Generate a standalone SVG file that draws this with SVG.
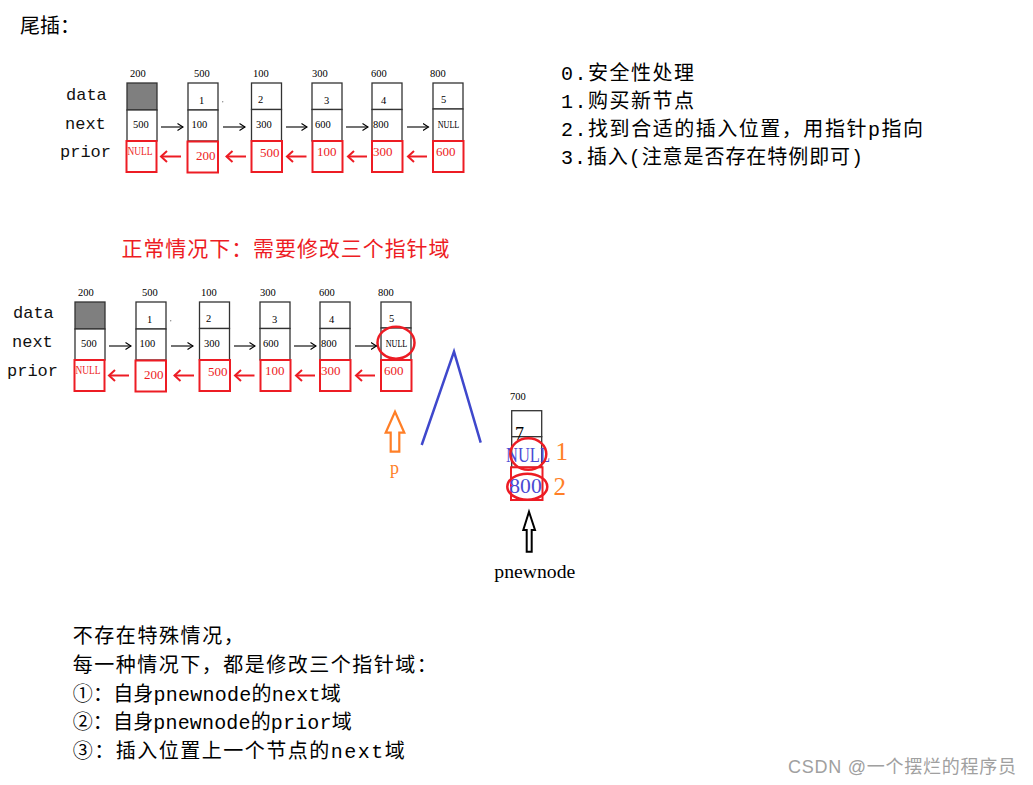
<svg xmlns="http://www.w3.org/2000/svg" width="1033" height="785" viewBox="0 0 1033 785">
<style>
.bg{fill:#fff}
.cjk{font-family:"Liberation Mono","Noto Sans CJK SC",monospace;font-size:20px;fill:#000}
.lab{font-family:"Liberation Mono",monospace;font-size:17px;fill:#111}
.addr{font-family:"Liberation Serif",serif;font-size:10.5px;fill:#000}
.val{font-family:"Liberation Serif",serif;font-size:10.5px;fill:#000}
.pv{font-family:"Liberation Serif",serif;font-size:13px;fill:#ed1c24}
.cell{fill:#fff;stroke:#333;stroke-width:1.3}
.gray{fill:#7f7f7f;stroke:#333;stroke-width:1.3}
.prior{fill:none;stroke:#ed1c24;stroke-width:2}
.nx{stroke:#000;stroke-width:1.1;fill:none;marker-end:url(#mb)}
.pr{stroke:#ed1c24;stroke-width:2;fill:none;marker-end:url(#mr)}
.ring{fill:none;stroke:#ed1c24;stroke-width:2.5}
</style>
<defs>
<marker id="mb" markerUnits="userSpaceOnUse" markerWidth="8" markerHeight="9" refX="6" refY="4" orient="auto"><path d="M0.5,0.5 L6,4 L0.5,7.5" fill="none" stroke="#000" stroke-width="1.1"/></marker>
<marker id="mr" markerUnits="userSpaceOnUse" markerWidth="10" markerHeight="14" refX="7.5" refY="6.5" orient="auto"><path d="M1.5,1 L7.5,6.5 L1.5,12" fill="none" stroke="#ed1c24" stroke-width="2"/></marker>
</defs>
<rect class="bg" x="0" y="0" width="1033" height="785"/>

<text class="cjk" x="20" y="33" font-size="20">尾插：</text>

<g id="steps">
<text class="cjk" x="561" y="80" textLength="133" lengthAdjust="spacing">0.安全性处理</text>
<text class="cjk" x="561" y="108" textLength="133" lengthAdjust="spacing">1.购买新节点</text>
<text class="cjk" x="561" y="136" textLength="362" lengthAdjust="spacing">2.找到合适的插入位置，用指针p指向</text>
<text class="cjk" x="561" y="164" textLength="302" lengthAdjust="spacing">3.插入(注意是否存在特例即可)</text>
</g>

<g id="row1-labels">
<text class="lab" x="66" y="100">data</text>
<text class="lab" x="65" y="129">next</text>
<text class="lab" x="60" y="157">prior</text>
</g>

<g id="row1">
<g id="r1-n200">
<text class="addr" x="130" y="76.5">200</text>
<rect class="gray" x="127" y="83" width="30" height="27"/>
<rect class="cell" x="127" y="110" width="30" height="31"/>
<text class="val" x="133" y="128">500</text>
<rect class="prior" x="126.5" y="141" width="30" height="31"/>
<text class="pv" x="127.5" y="155" font-size="12" textLength="25" lengthAdjust="spacingAndGlyphs">NULL</text>
</g>
<g id="r1-n500">
<text class="addr" x="194" y="76.5">500</text>
<rect class="cell" x="188" y="83" width="30" height="27"/>
<text class="val" x="199" y="104">1</text>
<rect class="cell" x="188" y="110" width="30" height="31"/>
<text class="val" x="191.5" y="128">100</text>
<rect class="prior" x="187.5" y="141.5" width="30.5" height="31"/>
<text class="pv" x="196" y="160">200</text>
<circle cx="222.7" cy="101.7" r="0.7" fill="#888"/>
</g>
<g id="r1-n100">
<text class="addr" x="253" y="76.5">100</text>
<rect class="cell" x="251.5" y="83" width="30" height="26.5"/>
<text class="val" x="258" y="103">2</text>
<rect class="cell" x="251.5" y="109.5" width="30" height="31.5"/>
<text class="val" x="256" y="128">300</text>
<rect class="prior" x="251.5" y="141" width="30.5" height="31"/>
<text class="pv" x="260" y="156.5">500</text>
</g>
<g id="r1-n300">
<text class="addr" x="312" y="76.5">300</text>
<rect class="cell" x="312" y="83" width="30" height="26.5"/>
<text class="val" x="324" y="104">3</text>
<rect class="cell" x="312" y="109.5" width="30" height="31.5"/>
<text class="val" x="315" y="128">600</text>
<rect class="prior" x="312.5" y="141" width="30" height="31"/>
<text class="pv" x="317" y="156">100</text>
</g>
<g id="r1-n600">
<text class="addr" x="371" y="76.5">600</text>
<rect class="cell" x="372" y="83" width="30" height="26.5"/>
<text class="val" x="381" y="104">4</text>
<rect class="cell" x="372" y="109.5" width="30" height="31.5"/>
<text class="val" x="373" y="128">800</text>
<rect class="prior" x="372" y="141" width="30.5" height="31"/>
<text class="pv" x="373" y="156">300</text>
</g>
<g id="r1-n800">
<text class="addr" x="430" y="76.5">800</text>
<rect class="cell" x="433" y="83" width="30" height="26"/>
<text class="val" x="441" y="102.7">5</text>
<rect class="cell" x="433" y="109" width="30" height="32"/>
<text class="val" x="437.7" y="128" font-size="11" textLength="21.6" lengthAdjust="spacingAndGlyphs">NULL</text>
<rect class="prior" x="433" y="141" width="30.5" height="31"/>
<text class="pv" x="436" y="156">600</text>
</g>
</g>

<text id="title-normal" x="121.5" y="256" font-family="Noto Sans CJK SC, sans-serif" font-size="21" fill="#ed1c24" textLength="328" lengthAdjust="spacing">正常情况下：需要修改三个指针域</text>

<g id="row2-labels">
<text class="lab" x="13" y="318">data</text>
<text class="lab" x="12" y="347">next</text>
<text class="lab" x="7" y="376">prior</text>
</g>

<g id="row2" transform="translate(-52,219)">
<g id="r2-n200">
<text class="addr" x="130" y="76.5">200</text>
<rect class="gray" x="127" y="83" width="30" height="27"/>
<rect class="cell" x="127" y="110" width="30" height="31"/>
<text class="val" x="133" y="128">500</text>
<rect class="prior" x="126.5" y="141" width="30" height="31"/>
<text class="pv" x="127.5" y="155" font-size="12" textLength="25" lengthAdjust="spacingAndGlyphs">NULL</text>
</g>
<g id="r2-n500">
<text class="addr" x="194" y="76.5">500</text>
<rect class="cell" x="188" y="83" width="30" height="27"/>
<text class="val" x="199" y="104">1</text>
<rect class="cell" x="188" y="110" width="30" height="31"/>
<text class="val" x="191.5" y="128">100</text>
<rect class="prior" x="187.5" y="141.5" width="30.5" height="31"/>
<text class="pv" x="196" y="160">200</text>
<circle cx="222.7" cy="101.7" r="0.7" fill="#888"/>
</g>
<g id="r2-n100">
<text class="addr" x="253" y="76.5">100</text>
<rect class="cell" x="251.5" y="83" width="30" height="26.5"/>
<text class="val" x="258" y="103">2</text>
<rect class="cell" x="251.5" y="109.5" width="30" height="31.5"/>
<text class="val" x="256" y="128">300</text>
<rect class="prior" x="251.5" y="141" width="30.5" height="31"/>
<text class="pv" x="260" y="156.5">500</text>
</g>
<g id="r2-n300">
<text class="addr" x="312" y="76.5">300</text>
<rect class="cell" x="312" y="83" width="30" height="26.5"/>
<text class="val" x="324" y="104">3</text>
<rect class="cell" x="312" y="109.5" width="30" height="31.5"/>
<text class="val" x="315" y="128">600</text>
<rect class="prior" x="312.5" y="141" width="30" height="31"/>
<text class="pv" x="317" y="156">100</text>
</g>
<g id="r2-n600">
<text class="addr" x="371" y="76.5">600</text>
<rect class="cell" x="372" y="83" width="30" height="26.5"/>
<text class="val" x="381" y="104">4</text>
<rect class="cell" x="372" y="109.5" width="30" height="31.5"/>
<text class="val" x="373" y="128">800</text>
<rect class="prior" x="372" y="141" width="30.5" height="31"/>
<text class="pv" x="373" y="156">300</text>
</g>
<g id="r2-n800">
<text class="addr" x="430" y="76.5">800</text>
<rect class="cell" x="433" y="83" width="30" height="26"/>
<text class="val" x="441" y="102.7">5</text>
<rect class="cell" x="433" y="109" width="30" height="32"/>
<text class="val" x="437.7" y="128" font-size="11" textLength="21.6" lengthAdjust="spacingAndGlyphs">NULL</text>
<rect class="prior" x="433" y="141" width="30.5" height="31"/>
<text class="pv" x="436" y="156">600</text>
<ellipse class="ring" cx="448" cy="123.7" rx="18.5" ry="16"/>
</g>
</g>

<g id="connectors">
<g id="row1-links">
<line class="nx" x1="161" y1="127" x2="183" y2="127"/>
<line class="nx" x1="223" y1="127" x2="245" y2="127"/>
<line class="nx" x1="286" y1="127" x2="307" y2="127"/>
<line class="nx" x1="346" y1="127" x2="368" y2="127"/>
<line class="nx" x1="407" y1="127" x2="428.5" y2="127"/>
<line class="pr" x1="181" y1="156.5" x2="161" y2="156.5"/>
<line class="pr" x1="246" y1="156.5" x2="226.5" y2="156.5"/>
<line class="pr" x1="306.5" y1="156.5" x2="287" y2="156.5"/>
<line class="pr" x1="367" y1="156.5" x2="348" y2="156.5"/>
<line class="pr" x1="427" y1="156.5" x2="408" y2="156.5"/>
</g>
<g id="row2-links" transform="translate(-52,219)">
<line class="nx" x1="161" y1="127" x2="183" y2="127"/>
<line class="nx" x1="223" y1="127" x2="245" y2="127"/>
<line class="nx" x1="286" y1="127" x2="307" y2="127"/>
<line class="nx" x1="346" y1="127" x2="368" y2="127"/>
<line class="nx" x1="407" y1="127" x2="428.5" y2="127"/>
<line class="pr" x1="181" y1="156.5" x2="161" y2="156.5"/>
<line class="pr" x1="246" y1="156.5" x2="226.5" y2="156.5"/>
<line class="pr" x1="306.5" y1="156.5" x2="287" y2="156.5"/>
<line class="pr" x1="367" y1="156.5" x2="348" y2="156.5"/>
<line class="pr" x1="427" y1="156.5" x2="408" y2="156.5"/>
</g>
</g>

<polyline id="insert-mark" points="421.7,445 454,351.7 480.7,442.7" fill="none" stroke="#3f48cc" stroke-width="2.5"/>

<g id="p-pointer">
<polygon points="395,411.7 404.3,432.7 399.3,432.7 399.3,451.7 390.7,451.7 390.7,432.7 385.7,432.7" fill="#fff" stroke="#ff7f27" stroke-width="2.2"/>
<text x="390" y="474" font-family="Liberation Serif, serif" font-size="18" fill="#ff7f27">p</text>
</g>

<g id="new-node-700">
<text class="addr" x="510" y="399.5">700</text>
<rect class="cell" x="511.7" y="410.7" width="30" height="26"/>
<rect class="cell" x="511.7" y="436.7" width="30" height="30.6"/>
<text x="515" y="440" font-family="Liberation Serif, serif" font-size="18" fill="#000">7</text>
<rect class="prior" x="511" y="467.3" width="31.5" height="32.7"/>
<text x="506" y="461.5" font-family="Liberation Serif, serif" font-size="22" fill="#4b4bd3" textLength="44" lengthAdjust="spacingAndGlyphs">NULL</text>
<text x="509.3" y="493" font-family="Liberation Serif, serif" font-size="21" fill="#4b4bd3" textLength="32.4" lengthAdjust="spacingAndGlyphs">800</text>
<ellipse class="ring" cx="528.3" cy="454" rx="18" ry="15.8"/>
<ellipse class="ring" cx="527.3" cy="486.7" rx="20" ry="13"/>
<text x="555.5" y="460" font-family="Liberation Serif, serif" font-size="25" fill="#ff7f27">1</text>
<text x="553.5" y="495" font-family="Liberation Serif, serif" font-size="25" fill="#ff7f27">2</text>
</g>

<g id="pnewnode-pointer">
<polygon points="529,511.7 535,530 531.7,530 531.7,551.7 526.7,551.7 526.7,530 523.3,530" fill="#fff" stroke="#000" stroke-width="2"/>
<text x="494.3" y="578" font-family="Liberation Serif, serif" font-size="19" fill="#000" textLength="81" lengthAdjust="spacingAndGlyphs">pnewnode</text>
</g>

<g id="notes">
<text class="cjk" x="72.7" y="643" textLength="171" lengthAdjust="spacing">不存在特殊情况，</text>
<text class="cjk" x="72.7" y="672" textLength="364" lengthAdjust="spacing">每一种情况下，都是修改三个指针域：</text>
<text class="cjk" x="72.7" y="700.5" textLength="268" lengthAdjust="spacing">①：自身pnewnode的next域</text>
<text class="cjk" x="72.7" y="729" textLength="279" lengthAdjust="spacing">②：自身pnewnode的prior域</text>
<text class="cjk" x="72.7" y="757.5" textLength="332" lengthAdjust="spacing">③：插入位置上一个节点的next域</text>
</g>

<text id="watermark" x="788" y="773" font-family="Liberation Sans, Noto Sans CJK SC, sans-serif" font-size="18" fill="#a0a0a0" textLength="228" lengthAdjust="spacing">CSDN @一个摆烂的程序员</text>
</svg>
